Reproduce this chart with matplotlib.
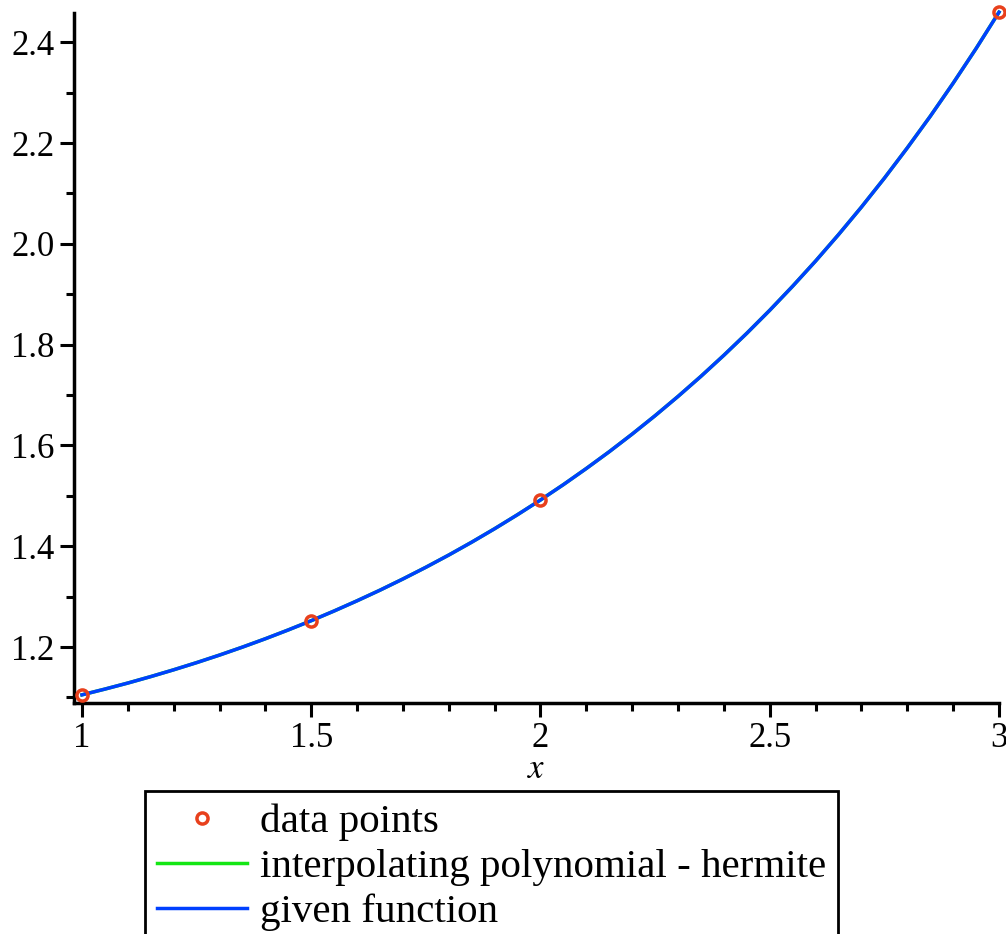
import numpy as np
import matplotlib.pyplot as plt
from matplotlib.ticker import MultipleLocator

plt.rcParams['font.family'] = ['Liberation Serif', 'DejaVu Serif']
plt.rcParams['mathtext.fontset'] = 'stix'

# data points
x_pts = [1.0, 1.5, 2.0, 3.0]
y_pts = [1.1052, 1.2523, 1.4918, 2.4596]

# curve values (hermite interpolant and given function coincide)
x_curve = [1.0, 1.05, 1.1, 1.15, 1.2, 1.25, 1.3, 1.35, 1.4, 1.45, 1.5,
           1.55, 1.6, 1.65, 1.7, 1.75, 1.8, 1.85, 1.9, 1.95, 2.0,
           2.05, 2.1, 2.15, 2.2, 2.25, 2.3, 2.35, 2.4, 2.45, 2.5,
           2.55, 2.6, 2.65, 2.7, 2.75, 2.8, 2.85, 2.9, 2.95, 3.0]
y_given = [1.1052, 1.1166, 1.1286, 1.1414, 1.1549, 1.1691, 1.1841, 1.1999,
           1.2165, 1.2340, 1.2523, 1.2716, 1.2918, 1.3129, 1.3351, 1.3583,
           1.3826, 1.4081, 1.4348, 1.4627, 1.4918, 1.5223, 1.5543, 1.5876,
           1.6226, 1.6591, 1.6973, 1.7372, 1.7790, 1.8226, 1.8682, 1.9160,
           1.9659, 2.0183, 2.0730, 2.1303, 2.1904, 2.2530, 2.3188, 2.3875,
           2.4596]
y_hermite = list(y_given)

fig = plt.figure(figsize=(10.06, 9.34), dpi=100)
ax = fig.add_axes([74/1006, 1 - 703/934, (999 - 74)/1006, (703 - 13)/934])

pts, = ax.plot(x_pts, y_pts, 'o', ms=8, mfc='none', mec='#e8401c', mew=2.5,
               label='data points', zorder=3, clip_on=False)
herm, = ax.plot(x_curve, y_hermite, color='#14e614', lw=2.5,
                label='interpolating polynomial - hermite', clip_on=False)
given, = ax.plot(x_curve, y_given, color='#0040ff', lw=2.5,
                 label='given function', clip_on=False)

ax.set_xlim(0.9826, 3.0)
ax.set_ylim(1.089, 2.458)
ax.spines['top'].set_visible(False)
ax.spines['right'].set_visible(False)
for s in ['left', 'bottom']:
    ax.spines[s].set_linewidth(2.5)

ax.set_xticks([1, 1.5, 2, 2.5, 3])
ax.set_xticklabels(['1', '1.5', '2', '2.5', '3'])
ax.set_yticks([1.2, 1.4, 1.6, 1.8, 2.0, 2.2, 2.4])
ax.xaxis.set_minor_locator(MultipleLocator(0.1))
ax.yaxis.set_minor_locator(MultipleLocator(0.1))
ax.tick_params(which='major', length=10, width=2.2, labelsize=25, pad=4)
ax.tick_params(which='minor', length=6, width=2.2)
ax.set_xlabel('$x$', fontsize=25, labelpad=-2)

leg = fig.legend(handles=[pts, herm, given], loc='upper left',
                 bbox_to_anchor=(145/1006, 1 - 791/934), fontsize=29.5,
                 frameon=True, fancybox=False, framealpha=1,
                 handlelength=2.2, handletextpad=0.3, labelspacing=0.18,
                 borderpad=0.3, borderaxespad=0)
leg.get_frame().set_edgecolor('black')
leg.get_frame().set_linewidth(2)

fig.savefig('out.png', dpi=100)
